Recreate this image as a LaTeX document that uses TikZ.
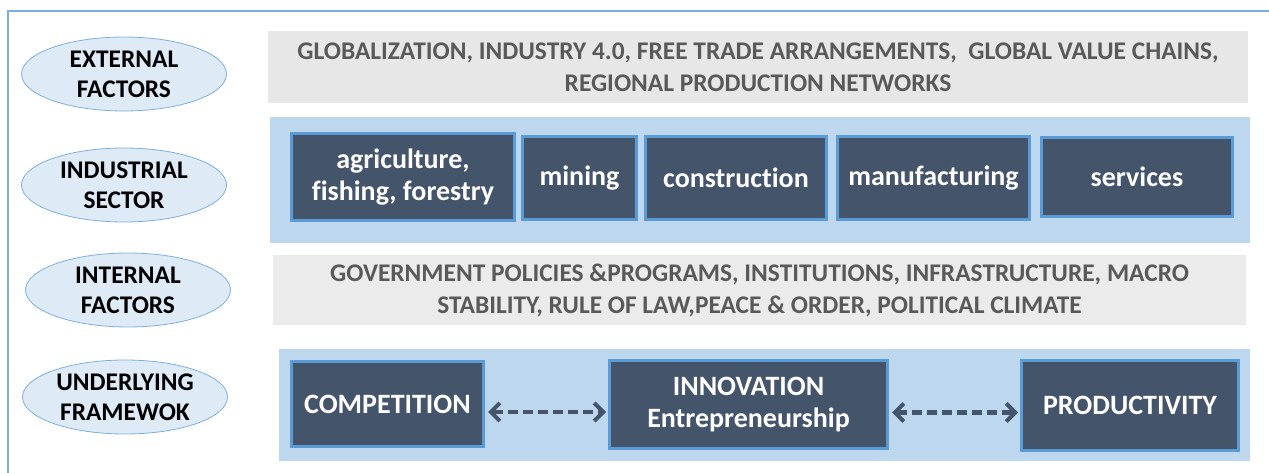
\documentclass[tikz,border=0pt]{standalone}
\usepackage{fontspec}
\setmainfont{Carlito}[Ligatures=NoCommon]
\usetikzlibrary{shapes.geometric,arrows.meta}
\definecolor{slate}{HTML}{44546A}
\definecolor{edgeblue}{HTML}{5B9BD5}
\definecolor{paleblue}{HTML}{DEEBF7}
\definecolor{panelblue}{HTML}{BDD7EE}
\definecolor{barfill}{HTML}{E7E7E7}
\definecolor{greytext}{HTML}{595959}
\tikzset{
  lab/.style={ellipse,draw=edgeblue!80,fill=paleblue,line width=.8pt,inner sep=0pt,
    minimum width=205pt,minimum height=74pt,align=center,
    font=\bfseries\fontsize{25.4}{30}\selectfont},
  greybar/.style={fill=barfill,text=greytext,inner sep=0pt,align=center,
    font=\bfseries\fontsize{25.4}{32}\selectfont},
  panel/.style={fill=panelblue,inner sep=0pt},
  sect/.style={draw=edgeblue,line width=3pt,fill=slate,text=white,inner sep=0pt,
    align=center,font=\bfseries\fontsize{28}{32}\selectfont},
  link/.style={slate,line width=4.5pt,dash pattern=on 10pt off 5pt,shorten <=3pt,shorten >=2pt,
    {Straight Barb[length=9pt,width=18pt,line width=4pt]}-{Straight Barb[length=9pt,width=18pt,line width=4pt]}}
}
\begin{document}
\begin{tikzpicture}[x=1pt,y=-1pt]
  \useasboundingbox (0,0) rectangle (1269,473);
  \draw[edgeblue!80,line width=1.2pt] (8,480) -- (8,11) -- (1280,11);

  \node[lab] (ext) at (124,74)  {EXTERNAL\\FACTORS};
  \node[lab] (ind) at (124,185) {INDUSTRIAL\\SECTOR};
  \node[lab] (int) at (128,290) {INTERNAL\\FACTORS};
  \node[lab] (und) at (125,397) {UNDERLYING\\FRAMEWOK};

  \node[greybar,minimum width=980pt,minimum height=72pt] (glob) at (758,67)
    {GLOBALIZATION, INDUSTRY 4.0, FREE TRADE ARRANGEMENTS,~~GLOBAL VALUE CHAINS,\\REGIONAL PRODUCTION NETWORKS};

  \node[panel,minimum width=980pt,minimum height=126pt] (secpanel) at (760,180) {};
  \node[sect,minimum width=223pt,minimum height=87pt] (agri)   at (403,177)   {agriculture,\\fishing, forestry};
  \node[sect,minimum width=114pt,minimum height=83pt] (mining) at (579.5,178) {mining};
  \node[sect,minimum width=181pt,minimum height=83pt] (constr) at (736,178)   {construction};
  \node[sect,minimum width=192pt,minimum height=83pt] (manuf)  at (933.5,178) {manufacturing};
  \node[sect,minimum width=191pt,minimum height=79pt] (serv)   at (1137,177)  {services};

  \node[greybar,fill=barfill!85,minimum width=973pt,minimum height=70pt] (intbar) at (759.5,290)
    {GOVERNMENT POLICIES \&PROGRAMS, INSTITUTIONS, INFRASTRUCTURE, MACRO\\STABILITY, RULE OF LAW,PEACE \& ORDER, POLITICAL CLIMATE};

  \node[panel,minimum width=971pt,minimum height=112pt] (fwpanel) at (764.5,405) {};
  \node[sect,minimum width=192pt,minimum height=85pt] (comp)  at (387.5,404)  {COMPETITION};
  \node[sect,minimum width=278pt,minimum height=88pt] (innov) at (748.5,404.5) {INNOVATION\\Entrepreneurship};
  \node[sect,minimum width=217pt,minimum height=90pt] (prod)  at (1130,405.5) {PRODUCTIVITY};

  \draw[link] ([yshift=-8pt]comp.east) -- ([yshift=-8pt]comp.east -| innov.west);
  \draw[link] ([yshift=-8pt]innov.east) -- ([yshift=-8pt]innov.east -| prod.west);
\end{tikzpicture}
\end{document}
